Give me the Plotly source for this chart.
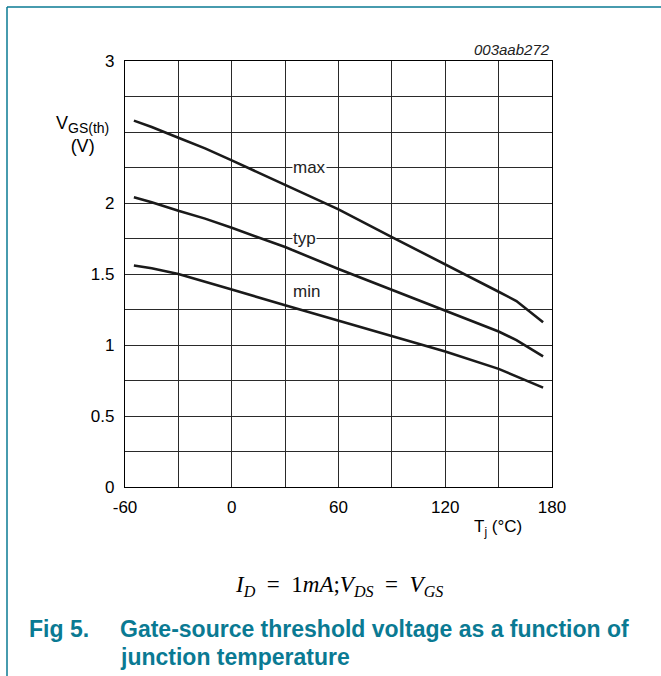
import plotly.graph_objects as go

# Data
tj = [-55, -45, -30, -15, 0, 30, 60, 90, 120, 150, 160, 175]
v_max = [2.58, 2.535, 2.46, 2.385, 2.30, 2.125, 1.955, 1.76, 1.57, 1.375, 1.31, 1.16]
v_typ = [2.04, 2.005, 1.945, 1.89, 1.825, 1.69, 1.535, 1.39, 1.245, 1.095, 1.035, 0.92]
v_min = [1.56, 1.54, 1.50, 1.447, 1.39, 1.28, 1.17, 1.06, 0.955, 0.832, 0.78, 0.70]

x_ticks = [-60, 0, 60, 120, 180]
y_ticks = [0, 0.5, 1, 1.5, 2, 2.5, 3]
y_tick_text = ["0", "0.5", "1", "1.5", "2", "", "3"]

W, H = 661, 676
L, R, T, B = 125, 552, 61, 487
TEAL = "#0a7a93"
FONT = "Liberation Sans, Arial, Helvetica, sans-serif"


def px(x):
    return (x - L) / (R - L)


def py(y):
    return (B - y) / (B - T)


fig = go.Figure()
for name, ys in [("max", v_max), ("typ", v_typ), ("min", v_min)]:
    fig.add_trace(go.Scatter(x=tj, y=ys, mode="lines", name=name,
                             line=dict(color="#1a1a1a", width=2.6),
                             showlegend=False, hoverinfo="skip"))

grid_col = "#2a2a2a"
fig.update_layout(
    width=W, height=H,
    margin=dict(l=L, r=W - R, t=T, b=H - B),
    paper_bgcolor="white", plot_bgcolor="white",
    font=dict(family=FONT, size=17, color="black"),
    xaxis=dict(range=[-60, 180], tickvals=x_ticks, ticktext=[str(v) for v in x_ticks],
               showgrid=True, gridcolor=grid_col, gridwidth=1,
               minor=dict(dtick=30, tick0=-60, showgrid=True, gridcolor=grid_col, gridwidth=1),
               showline=True, linecolor="black", linewidth=1.2, mirror=True,
               zeroline=False, ticks="", ticklabelstandoff=4,
               tickfont=dict(size=17, family=FONT)),
    yaxis=dict(range=[0, 3], tickvals=y_ticks, ticktext=y_tick_text,
               showgrid=True, gridcolor=grid_col, gridwidth=1,
               minor=dict(dtick=0.25, tick0=0, showgrid=True, gridcolor=grid_col, gridwidth=1),
               showline=True, linecolor="black", linewidth=1.2, mirror=True,
               zeroline=False, ticks="", ticklabelstandoff=6,
               tickfont=dict(size=17, family=FONT)),
)

ann = []
# curve labels
for txt, yv, bg in [("max", 2.25, "white"), ("typ", 1.75, "white"), ("min", 1.38, "rgba(0,0,0,0)")]:
    ann.append(dict(x=34, y=yv, xref="x", yref="y", text=txt, showarrow=False,
                    xanchor="left", yanchor="middle", bgcolor=bg, borderpad=0,
                    font=dict(size=17, family=FONT, color="#222")))
# y-axis title
ann.append(dict(x=px(82), y=py(134), xref="paper", yref="paper",
                text="V<sub><span style='font-size:14px'>GS(th)</span></sub><br>(V)", showarrow=False,
                xanchor="center", yanchor="middle", align="center",
                font=dict(size=18, family=FONT)))
# x-axis title
ann.append(dict(x=px(524), y=py(528), xref="paper", yref="paper",
                text="T<sub>j</sub> (°C)", showarrow=False,
                xanchor="right", yanchor="middle",
                font=dict(size=17, family=FONT)))
# figure code
ann.append(dict(x=px(552), y=py(49), xref="paper", yref="paper",
                text="<i>003aab272</i>", showarrow=False,
                xanchor="right", yanchor="middle",
                font=dict(size=15, family=FONT, color="#222")))
# formula
ann.append(dict(x=px(339), y=py(586), xref="paper", yref="paper",
                text="<i>I<sub>D</sub></i>&nbsp;&nbsp;=&nbsp;&nbsp;1<i>mA</i>;<i>V<sub>DS</sub></i>&nbsp;&nbsp;=&nbsp;&nbsp;<i>V<sub>GS</sub></i>",
                showarrow=False, xanchor="center", yanchor="middle",
                font=dict(size=23, family="Liberation Serif, Times New Roman, serif", color="black")))
# caption
CAP = 23
ann.append(dict(x=px(27), y=py(629), xref="paper", yref="paper",
                text="<b>Fig 5.</b>", showarrow=False, xanchor="left", yanchor="middle",
                font=dict(size=CAP, family=FONT, color=TEAL)))
ann.append(dict(x=px(118), y=py(629), xref="paper", yref="paper",
                text="<b>Gate-source threshold voltage as a function of</b>", showarrow=False,
                xanchor="left", yanchor="middle",
                font=dict(size=CAP, family=FONT, color=TEAL)))
ann.append(dict(x=px(118), y=py(657), xref="paper", yref="paper",
                text="<b>junction temperature</b>", showarrow=False,
                xanchor="left", yanchor="middle",
                font=dict(size=CAP, family=FONT, color=TEAL)))
fig.update_layout(annotations=ann)

# frame lines (top and left)
fig.add_shape(type="line", xref="paper", yref="paper", x0=px(7), x1=px(661), y0=py(7), y1=py(7),
              line=dict(color=TEAL, width=1.5))
fig.add_shape(type="line", xref="paper", yref="paper", x0=px(7), x1=px(7), y0=py(7), y1=py(676),
              line=dict(color=TEAL, width=1.5))

fig.write_html("out.html", config={"displayModeBar": False},
               post_script="document.body.style.margin='0';")
